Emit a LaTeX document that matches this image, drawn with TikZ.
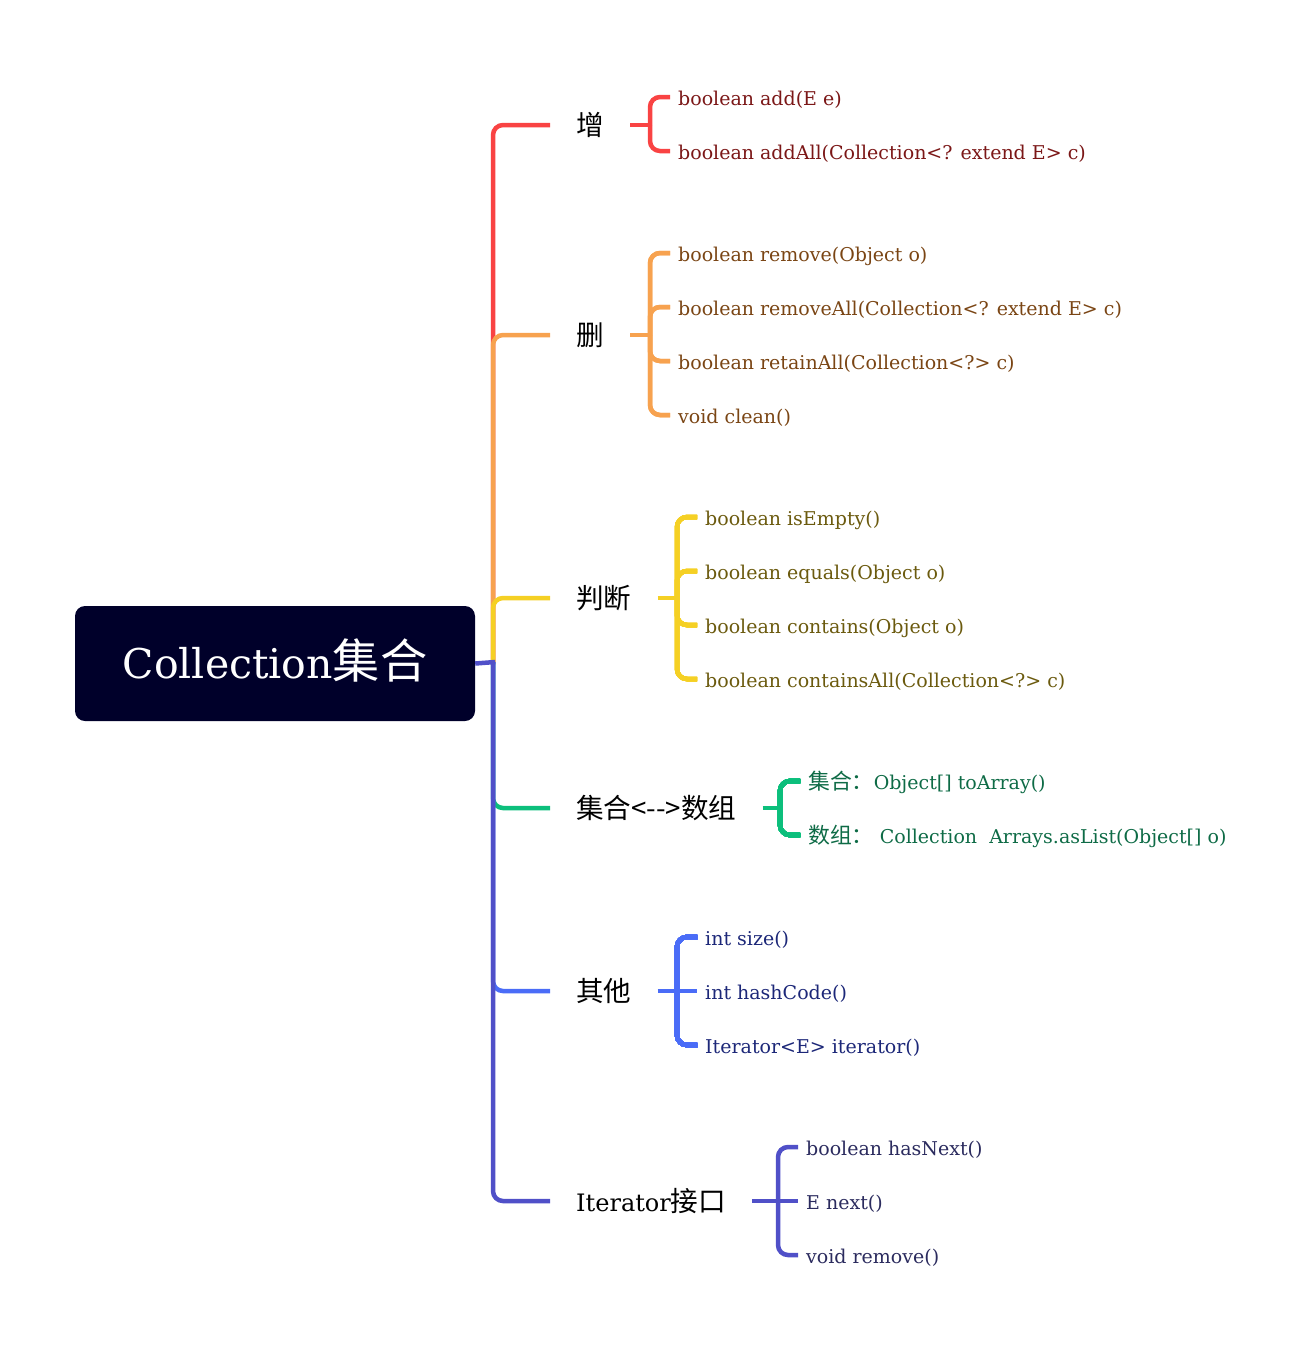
\documentclass[tikz,border=0pt]{standalone}
\usepackage{fontspec}
\setmainfont{DejaVu Serif}
\newfontfamily\cjk[Scale=1.15]{Noto Sans CJK SC}

\definecolor{rootfill}{HTML}{00002A}
\definecolor{lRed}{HTML}{F94343}
\definecolor{tRed}{HTML}{7B1717}
\definecolor{lOrange}{HTML}{F7A24F}
\definecolor{tOrange}{HTML}{7A4514}
\definecolor{lYellow}{HTML}{F5D024}
\definecolor{tYellow}{HTML}{6B5A0E}
\definecolor{lGreen}{HTML}{0CBF7C}
\definecolor{tGreen}{HTML}{0E6B46}
\definecolor{lBlue}{HTML}{4A6CF7}
\definecolor{tBlue}{HTML}{1C2778}
\definecolor{lIndigo}{HTML}{5050C8}
\definecolor{tIndigo}{HTML}{2B2B5E}

\tikzset{
	wire/.style={draw=#1, line width=4.5pt},
	rootbox/.style={fill=rootfill, text=white, rounded corners=10pt,
		minimum width=400pt, minimum height=115pt, inner sep=0pt,
		text height=30pt, text depth=0pt, font=\fontsize{41}{41}\selectfont},
	branchlbl/.style={anchor=west, inner xsep=26pt, inner ysep=0pt,
		text height=21pt, text depth=0pt, font=\fontsize{24}{24}\selectfont},
	leaf/.style={anchor=west, inner xsep=8pt, inner ysep=0pt, text=#1,
		text height=16pt, text depth=0pt, font=\fontsize{19}{19}\selectfont},
}

% wire from a bracket to one leaf
\newcommand{\leafwire}[3]{
	\draw[wire=#1, rounded corners=10pt] (#2) -- (#2 |- #3.west) -- (#3.west);
}

\begin{document}
\begin{tikzpicture}[x=1pt, y=-1pt]
\useasboundingbox (0,0) rectangle (1312,1353);

\node[rootbox] (root) at (275,663.5) {Collection{\cjk 集合}};
\coordinate (trunk) at (493,662);

% branch labels
\node[branchlbl] (zeng) at (550,125) {\cjk 增};
\node[branchlbl] (shan) at (550,335) {\cjk 删};
\node[branchlbl] (panduan) at (550,598) {\cjk 判断};
\node[branchlbl] (zhuan) at (550,808) {\cjk 集合<-{}->数组};
\node[branchlbl] (qita) at (550,991) {\cjk 其他};
\node[branchlbl] (iter) at (550,1201) {Iterator{\cjk 接口}};

\foreach \b/\x in {zeng/650, shan/650, panduan/677, zhuan/780, qita/677, iter/778}{
	\coordinate (\b b) at (\b.east -| \x,0);
	\coordinate (\b l) at (\b.east -| \x+20,0);
}

% leaves
\foreach \n/\y/\t in {add1/97/{boolean add(E e)}, add2/151/{boolean addAll(Collection<? extend E> c)}}
	\node[leaf=tRed] (\n) at (zengl |- 0,\y) {\t};
\foreach \n/\y/\t in {rm1/253/{boolean remove(Object o)}, rm2/307/{boolean removeAll(Collection<? extend E> c)},
	rm3/361/{boolean retainAll(Collection<?> c)}, rm4/415/{void clean()}}
	\node[leaf=tOrange] (\n) at (shanl |- 0,\y) {\t};
\foreach \n/\y/\t in {pd1/517/{boolean isEmpty()}, pd2/571/{boolean equals(Object o)},
	pd3/625/{boolean contains(Object o)}, pd4/679/{boolean containsAll(Collection<?> c)}}
	\node[leaf=tYellow] (\n) at (panduanl |- 0,\y) {\t};
\node[leaf=tGreen] (zh1) at (zhuanl |- 0,781) {{\cjk 集合：}Object[] toArray()};
\node[leaf=tGreen] (zh2) at (zhuanl |- 0,835) {{\cjk 数组：}\ Collection\ \ Arrays.asList(Object[] o)};
\foreach \n/\y/\t in {qt1/937/{int size()}, qt2/991/{int hashCode()}, qt3/1045/{Iterator<E> iterator()}}
	\node[leaf=tBlue] (\n) at (qital |- 0,\y) {\t};
\foreach \n/\y/\t in {it1/1147/{boolean hasNext()}, it2/1201/{E next()}, it3/1255/{void remove()}}
	\node[leaf=tIndigo] (\n) at (iterl |- 0,\y) {\t};

% trunk to branches
\foreach \b/\c in {zeng/lRed, shan/lOrange, panduan/lYellow, zhuan/lGreen, qita/lBlue, iter/lIndigo}
	\draw[wire=\c, rounded corners=10pt] (trunk) -- (trunk |- \b.west) -- (\b.west);
\draw[wire=lIndigo] (root.east) -- ([xshift=2.25pt]trunk);

% brackets
\foreach \b/\c in {zeng/lRed, shan/lOrange, panduan/lYellow, zhuan/lGreen, qita/lBlue, iter/lIndigo}
	\draw[wire=\c] (\b.east) -- ([xshift=2.25pt]\b b);
\foreach \n in {add1,add2} \leafwire{lRed}{zengb}{\n}
\foreach \n in {rm1,rm2,rm3,rm4} \leafwire{lOrange}{shanb}{\n}
\foreach \n in {pd1,pd2,pd3,pd4} \leafwire{lYellow}{panduanb}{\n}
\foreach \n in {zh1,zh2} \leafwire{lGreen}{zhuanb}{\n}
\foreach \n in {qt1,qt3} \leafwire{lBlue}{qitab}{\n}
\draw[wire=lBlue] (qitab) -- (qt2.west);
\foreach \n in {it1,it3} \leafwire{lIndigo}{iterb}{\n}
\draw[wire=lIndigo] (iterb) -- (it2.west);
\end{tikzpicture}
\end{document}
